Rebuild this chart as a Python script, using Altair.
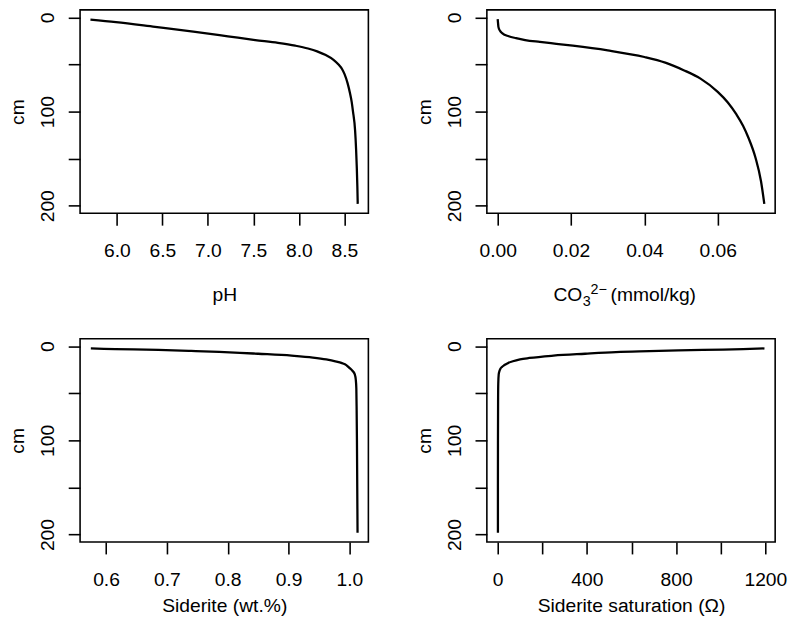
import altair as alt
import pandas as pd

# ---- data ----
ph_depth = [2.4, 5, 10, 15, 20, 24, 27, 30, 33, 36, 40, 45, 50, 55, 60, 70, 80, 90, 100, 120, 140, 160, 180, 198]
ph_vals = [5.71, 5.99, 6.42, 6.84, 7.22, 7.52, 7.77, 7.96, 8.10, 8.20, 8.295, 8.38, 8.435, 8.475, 8.50, 8.535,
           8.56, 8.58, 8.594, 8.617, 8.628, 8.636, 8.642, 8.646]

co3_depth = [1.7, 6, 10, 14, 17, 20, 22, 24, 26, 28, 30, 35, 42, 48, 56, 65, 79, 90, 103, 115, 128, 149, 174, 198]
co3_vals = [0.0, 0.0001, 0.0002, 0.0006, 0.0013, 0.0030, 0.0050, 0.0075, 0.0115, 0.0160, 0.0205, 0.0300,
            0.0400, 0.0457, 0.0507, 0.0553, 0.0600, 0.0627, 0.0651, 0.0669, 0.0684, 0.0703, 0.0718, 0.0727]

sid_depth = [2.4, 3, 4, 5, 6, 7, 8, 10, 12, 14, 16, 18, 20, 23, 26, 30, 35, 45, 68, 100, 150, 198]
sid_vals = [0.575, 0.615, 0.686, 0.74, 0.786, 0.82, 0.85, 0.905, 0.94, 0.962, 0.977, 0.988, 0.995, 1.000,
            1.005, 1.009, 1.0105, 1.0115, 1.012, 1.0125, 1.013, 1.0135]

sat_depth = [2.4, 3, 3.5, 4.5, 5.3, 6.3, 8, 10, 12.5, 14, 16, 18, 20, 22, 24, 27, 30, 40, 55, 100, 150, 198]
sat_vals = [1196, 1100, 1010, 810, 680, 530, 392, 250, 142, 100, 68, 45, 30, 19, 12, 7, 4.5, 2.5, 1.8, 1.2,
            1.0, 1.0]

depth_ticks = [0, 50, 100, 150, 200]
ph_ticks = [6.0, 6.5, 7.0, 7.5, 8.0, 8.5]
co3_ticks = [0.00, 0.02, 0.04, 0.06]
sid_ticks = [0.6, 0.7, 0.8, 0.9, 1.0]
sat_ticks = [0, 200, 400, 600, 800, 1000, 1200]

FONT = "Liberation Sans"
FS = 19.5
W, H = 292, 206

y_domain = [-8, 208]


def panel(depth, vals, xdomain, xticks, xfmt, xtitle, title_y, label_expr=None):
    df = pd.DataFrame({"depth": depth, "val": vals})
    xaxis_kwargs = dict(values=xticks, format=xfmt, title=xtitle, titleY=title_y, titleX=W / 2,
                        titleBaseline="alphabetic", titleAlign="center")
    if label_expr:
        xaxis_kwargs["labelExpr"] = label_expr
    line = alt.Chart(df).mark_line(color="black", strokeWidth=2.3, interpolate="monotone").encode(
        x=alt.X("val:Q", scale=alt.Scale(domain=xdomain, nice=False, zero=False),
                axis=alt.Axis(**xaxis_kwargs)),
        y=alt.Y("depth:Q", scale=alt.Scale(domain=y_domain, reverse=True, nice=False, zero=False),
                axis=alt.Axis(values=depth_ticks, format="d", title="cm",
                              labelExpr="datum.value % 100 == 0 ? datum.label : ''",
                              labelAngle=-90, labelAlign="center", labelBaseline="alphabetic",
                              labelPadding=15, titleAngle=-90, titleX=-57, titleY=H / 2,
                              titleBaseline="alphabetic", titleAlign="center")),
        order=alt.Order("depth:Q"),
    )
    return line


one = pd.DataFrame({"k": [0]})

p1 = panel(ph_depth, ph_vals, [5.596, 8.763], ph_ticks, ".1f", "pH", 88).properties(width=W, height=H)

p2_line = panel(co3_depth, co3_vals, [-0.00295, 0.07566], co3_ticks, ".2f", "", 88)


def txt(s, x, y, size):
    return alt.Chart(one).mark_text(text=s, align="left", baseline="alphabetic", font=FONT,
                                    fontSize=size, color="black").encode(x=alt.value(x), y=alt.value(y))


p2 = alt.layer(
    p2_line,
    txt("CO", 67.4, 295, FS),
    txt("3", 97.0, 299.5, 14.5),
    txt("2\u2212", 104.9, 288, 14.5),
    txt("(mmol/kg)", 125.2, 295, FS),
).properties(width=W, height=H)

p3 = panel(sid_depth, sid_vals, [0.5573, 1.0313], sid_ticks, ".1f", "Siderite (wt.%)", 70).properties(width=W, height=H)
p4 = panel(sat_depth, sat_vals, [-48.6, 1244], sat_ticks, "d", "Siderite saturation (\u03a9)", 70,
           label_expr="datum.value % 400 == 0 ? datum.label : ''").properties(width=W, height=H)

chart = alt.concat(p1, p2, p3, p4, columns=2, spacing={"row": 127, "column": 120}, bounds="flush").properties(
    padding={"left": -1, "top": -3, "right": 0, "bottom": 0},
    background="white",
).configure_view(
    stroke="black", strokeWidth=1.6
).configure_axis(
    domain=False, grid=False, ticks=True, tickSize=12, tickWidth=1.6, tickColor="black",
    labelFont=FONT, labelFontSize=FS, labelColor="black", labelPadding=32, labelBaseline="alphabetic",
    titleFont=FONT, titleFontSize=FS, titleFontWeight="normal", titleColor="black",
    labelOverlap=False, labelFlush=False,
)

chart.save("out.html", embed_options={"renderer": "svg", "actions": False})
